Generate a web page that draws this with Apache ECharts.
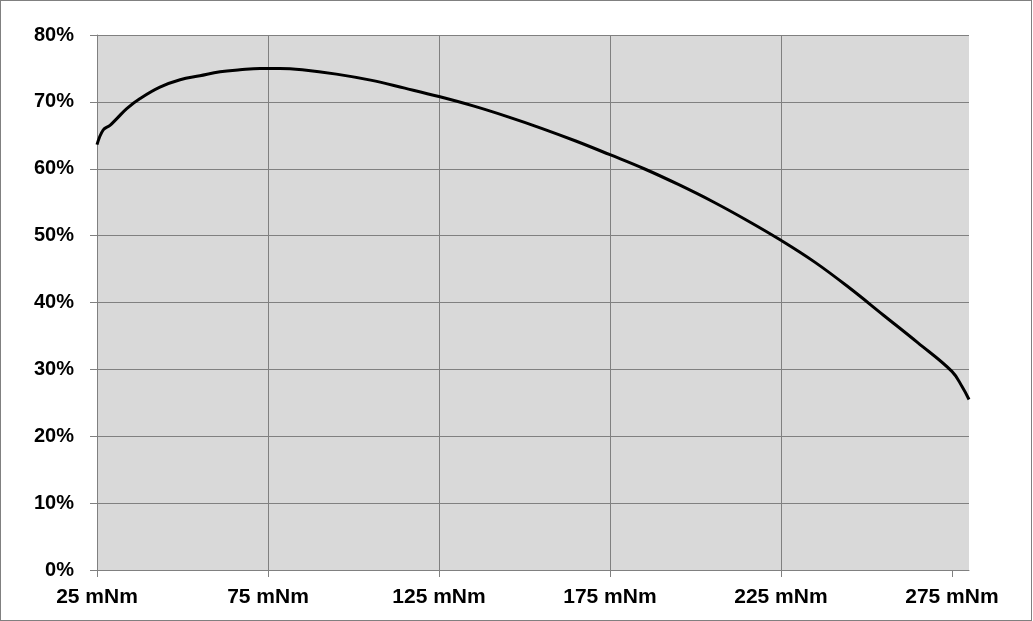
<!DOCTYPE html>
<html>
<head>
<meta charset="utf-8">
<script src="https://cdn.jsdelivr.net/npm/echarts@6/dist/echarts.min.js"></script>
<style>
html,body{margin:0;padding:0;background:#fff;}
#wrap{position:absolute;left:0;top:0;width:1030px;height:619px;border:1px solid #808080;}
#chart{width:1030px;height:619px;}
</style>
</head>
<body>
<div id="wrap"><div id="chart"></div></div>
<script>
// Torque (mNm)
const torque = [25, 26.8, 28.8, 30.8, 33.7, 37.6, 43.4, 49.3, 55.1, 61.0, 66.8, 72.7, 78.5, 85, 95, 105, 115, 125, 135, 145, 155, 165, 175, 185, 195, 205, 215, 225, 235, 245, 255, 265, 275, 278, 280];
// Efficiency (%)
const efficiency = [63.6, 65.8, 66.5, 67.5, 69.0, 70.5, 72.2, 73.3, 73.9, 74.5, 74.8, 75.0, 75.0, 74.8, 74.15, 73.25, 72.05, 70.8, 69.4, 67.8, 66.05, 64.15, 62.1, 60.0, 57.65, 55.1, 52.3, 49.3, 46.0, 42.2, 38.1, 34.0, 29.7, 27.4, 25.5];
// Axis tick values
const xTicks = [25, 75, 125, 175, 225, 275];
const yTicks = [0, 10, 20, 30, 40, 50, 60, 70, 80];

const chart = echarts.init(document.getElementById('chart'));
const gray = '#808080';
const labelFont = {color: '#000', fontFamily: 'Liberation Sans, Arial, sans-serif', fontWeight: 'bold'};
chart.setOption({
  animation: false,
  grid: {left: 96, right: 62, top: 34, bottom: 50, show: true, backgroundColor: '#D9D9D9', borderWidth: 0},
  xAxis: {
    type: 'value', min: 25, max: 280, interval: 50,
    axisLine: {show: true, onZero: false, lineStyle: {color: gray, width: 1}},
    axisTick: {show: true, length: 7, lineStyle: {color: gray}, customValues: xTicks},
    splitLine: {show: true, showMaxLine: false, lineStyle: {color: gray, width: 1}},
    axisLabel: Object.assign({margin: 17, fontSize: 21, customValues: xTicks, formatter: v => v + ' mNm'}, labelFont)
  },
  yAxis: {
    type: 'value', min: 0, max: 80, interval: 10,
    axisLine: {show: true, lineStyle: {color: gray, width: 1}},
    axisTick: {show: true, length: 7, lineStyle: {color: gray}, customValues: yTicks},
    splitLine: {show: true, lineStyle: {color: gray, width: 1}},
    axisLabel: Object.assign({margin: 23, fontSize: 20, customValues: yTicks, formatter: v => v + '%'}, labelFont)
  },
  series: [{
    type: 'line',
    data: torque.map((t, i) => [t, efficiency[i]]),
    showSymbol: false,
    smooth: 0.4,
    lineStyle: {color: '#000', width: 3},
    clip: true
  }]
});
</script>
</body>
</html>
